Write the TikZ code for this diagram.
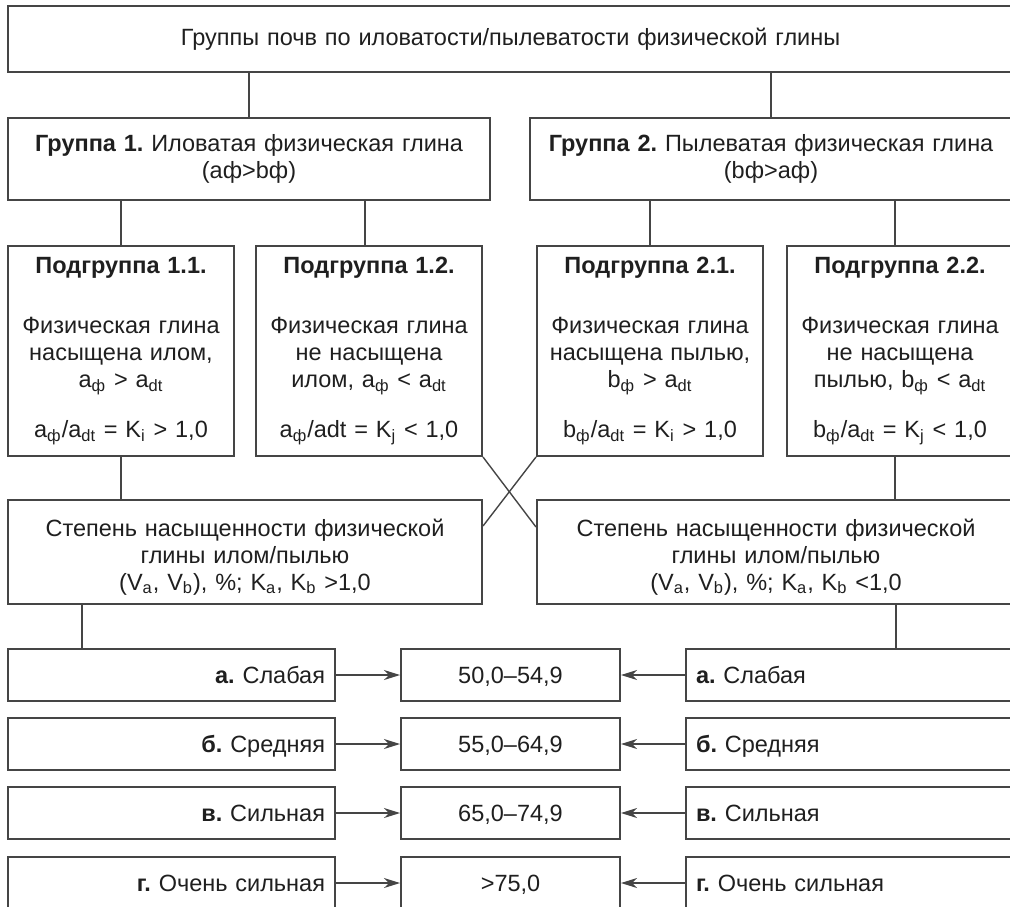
\documentclass[tikz,border=0pt]{standalone}
\usepackage{fontspec}
\setmainfont{Liberation Sans}
\usepackage{tikz}
\usetikzlibrary{arrows.meta}
\frenchspacing
\definecolor{lgray}{rgb}{0.27, 0.27, 0.27}
\definecolor{tgray}{rgb}{0.12, 0.12, 0.12}
\tikzset{box/.style = {draw = lgray, line width = 1pt, text = tgray, inner sep = 0, inner xsep = 5pt,
                       align = center, font = \fontsize{11.75}{13.5}\selectfont}}
\tikzset{subbox/.style = {box, text width = 103pt, minimum height = 105pt}}
\tikzset{degbox/.style = {box, minimum height = 52pt}}
\tikzset{rowbox/.style = {box, text width = 153.5pt, minimum height = 26pt, text height = 10.5pt, text depth = 2pt}}
\tikzset{midbox/.style = {box, text width = 99.5pt, minimum height = 26pt, text height = 10.5pt, text depth = 2pt}}
\tikzset{link/.style = {draw = lgray, line width = 0.7pt}}
\tikzset{arr/.style = {link, line width = 0.6pt, -{Stealth[length = 8pt, width = 5pt, inset = 2.5pt]}}}
\newcommand{\topstrut}{\rule{0pt}{13.5pt}}

\begin{document}
\begin{tikzpicture}[x = 0.5pt, y = -0.5pt]
      \useasboundingbox (0, 0) rectangle (1010, 906);
      \clip (0, 0) rectangle (1010, 906);

      \node [box, text width = 492.5pt, minimum height = 33pt] (top) at (510.5, 39)
            {Группы почв по иловатости/пылеватости физической глины};
      \node [box, text width = 231pt, minimum height = 41pt] (grp1) at (249, 159)
            {\textbf{Группа 1.} Иловатая физическая глина\\(aф>bф)};
      \node [box, text width = 231pt, minimum height = 41pt] (grp2) at (771, 159)
            {\textbf{Группа 2.} Пылеватая физическая глина\\(bф>aф)};

      \node [subbox] (sub11) at (121, 351)
            {\textbf{Подгруппа 1.1.}\\[16.5pt]Физическая глина\\насыщена илом,\\a\textsubscript{ф} > a\textsubscript{dt}\\[11.5pt]
             a\textsubscript{ф}/a\textsubscript{dt} = K\textsubscript{i} > 1,0};
      \node [subbox] (sub12) at (369, 351)
            {\textbf{Подгруппа 1.2.}\\[16.5pt]Физическая глина\\не насыщена\\илом, a\textsubscript{ф} < a\textsubscript{dt}\\[11.5pt]
             a\textsubscript{ф}/adt = K\textsubscript{j} < 1,0};
      \node [subbox] (sub21) at (650, 351)
            {\textbf{Подгруппа 2.1.}\\[16.5pt]Физическая глина\\насыщена пылью,\\b\textsubscript{ф} > a\textsubscript{dt}\\[11.5pt]
             b\textsubscript{ф}/a\textsubscript{dt} = K\textsubscript{i} > 1,0};
      \node [subbox] (sub22) at (900, 351)
            {\textbf{Подгруппа 2.2.}\\[16.5pt]Физическая глина\\не насыщена\\пылью, b\textsubscript{ф} < a\textsubscript{dt}\\[11.5pt]
             b\textsubscript{ф}/a\textsubscript{dt} = K\textsubscript{j} < 1,0};

      \node [degbox, text width = 227pt] (degL) at (245, 552)
            {\topstrut Степень насыщенности физической\\глины илом/пылью\\(V\textsubscript{a}, V\textsubscript{b}), \%; K\textsubscript{a}, K\textsubscript{b} >1,0};
      \node [degbox, text width = 229pt] (degR) at (776, 552)
            {\topstrut Степень насыщенности физической\\глины илом/пылью\\(V\textsubscript{a}, V\textsubscript{b}), \%; K\textsubscript{a}, K\textsubscript{b} <1,0};

      \node [rowbox, align = right] (la) at (171.5, 675) {\textbf{а.} Слабая};
      \node [midbox] (ma) at (510.5, 675) {50,0–54,9};
      \node [rowbox, align = left] (ra) at (849.5, 675) {\textbf{а.} Слабая};
      \node [rowbox, align = right] (lb) at (171.5, 744) {\textbf{б.} Средняя};
      \node [midbox] (mb) at (510.5, 744) {55,0–64,9};
      \node [rowbox, align = left] (rb) at (849.5, 744) {\textbf{б.} Средняя};
      \node [rowbox, align = right] (lc) at (171.5, 813) {\textbf{в.} Сильная};
      \node [midbox] (mc) at (510.5, 813) {65,0–74,9};
      \node [rowbox, align = left] (rc) at (849.5, 813) {\textbf{в.} Сильная};
      \node [rowbox, align = right] (ld) at (171.5, 883) {\textbf{г.} Очень сильная};
      \node [midbox] (md) at (510.5, 883) {>75,0};
      \node [rowbox, align = left] (rd) at (849.5, 883) {\textbf{г.} Очень сильная};

      \draw [link] (top.south -| grp1.north) -- (grp1.north);
      \draw [link] (top.south -| grp2.north) -- (grp2.north);
      \draw [link] (grp1.south -| sub11.north) -- (sub11.north);
      \draw [link] ([xshift = -2pt]grp1.south -| sub12.north) -- ([xshift = -2pt]sub12.north);
      \draw [link] (grp2.south -| sub21.north) -- (sub21.north);
      \draw [link] ([xshift = -2.5pt]grp2.south -| sub22.north) -- ([xshift = -2.5pt]sub22.north);

      \draw [link] (sub11.south) -- (sub11.south |- degL.north);
      \draw [link] ([xshift = -2.5pt]sub22.south) -- ([xshift = -2.5pt]sub22.south |- degR.north);
      \draw [link] (sub12.south east) -- ([yshift = -14pt]degR.north west);
      \draw [link] (sub21.south west) -- ([yshift = -13.5pt]degL.north east);

      \draw [link] ([xshift = 37.5pt]degL.south west) -- ([xshift = 37.5pt]la.north west);
      \draw [link] ([xshift = 180pt]degR.south west) -- ([xshift = 180pt]degR.south west |- ra.north);

      \draw [arr] (la) -- (ma);
      \draw [arr] (ra) -- (ma);
      \draw [arr] (lb) -- (mb);
      \draw [arr] (rb) -- (mb);
      \draw [arr] (lc) -- (mc);
      \draw [arr] (rc) -- (mc);
      \draw [arr] (ld) -- (md);
      \draw [arr] (rd) -- (md);
\end{tikzpicture}
\end{document}
